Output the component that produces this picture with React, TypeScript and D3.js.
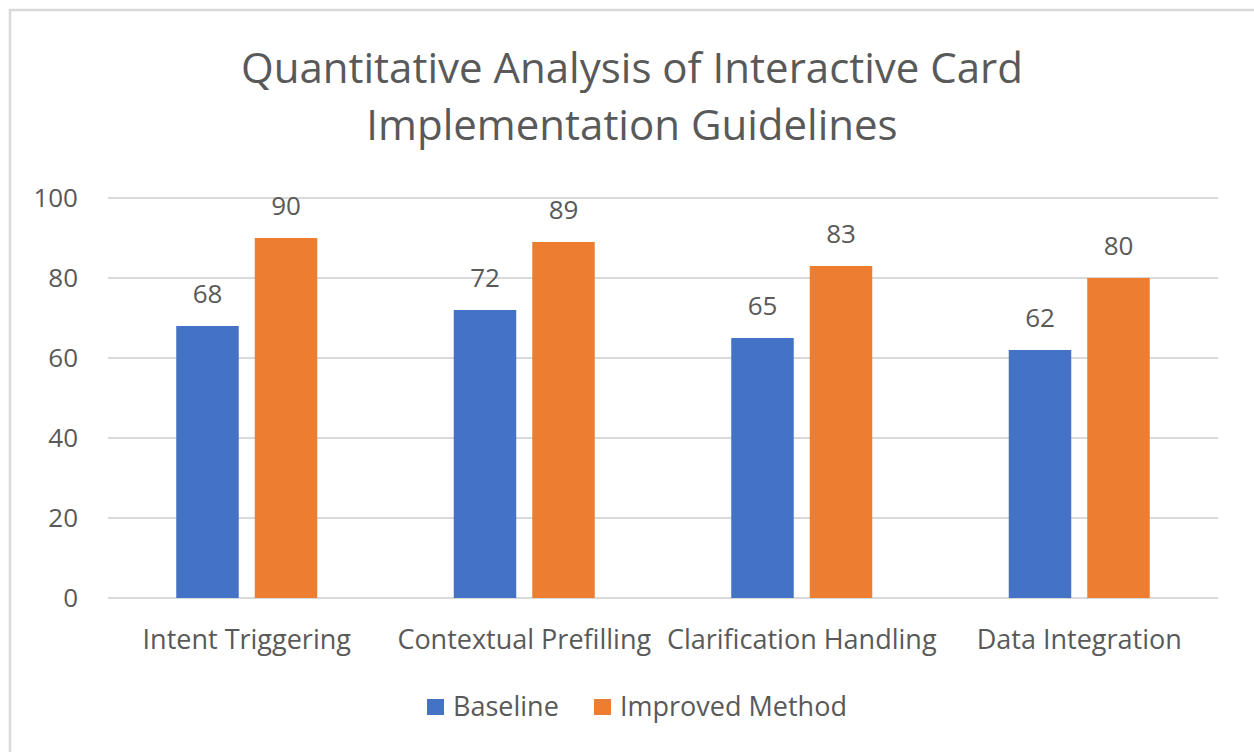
import React from "react";
import * as d3 from "d3";

const categories = ["Intent Triggering", "Contextual Prefilling", "Clarification Handling", "Data Integration"];
const seriesNames = ["Baseline", "Improved Method"];
const baseline = [68, 72, 65, 62];
const improved = [90, 89, 83, 80];
const yTicks = [0, 20, 40, 60, 80, 100];
const titleLines = ["Quantitative Analysis of Interactive Card", "Implementation Guidelines"];
const colors = ["#4472C4", "#ED7D31"];

const W = 1254;
const H = 752;
const FONT = "'Open Sans', 'Noto Sans', sans-serif";
const TEXT = "#595959";
const GRID = "#D9D9D9";

export default function App() {
  const plot = { left: 108, right: 1218, top: 198, bottom: 598 };
  const y = d3.scaleLinear().domain([0, 100]).range([plot.bottom, plot.top]);
  const x0 = d3.scaleBand<string>().domain(categories).range([plot.left, plot.right]).paddingInner(0).paddingOuter(0);
  const groupW = 141;
  const bw = x0.bandwidth();
  const x1 = d3
    .scaleBand<string>()
    .domain(seriesNames)
    .range([(bw - groupW) / 2, (bw + groupW) / 2])
    .paddingInner(0.204)
    .paddingOuter(0);
  const series = [baseline, improved];

  return (
    <svg width={W} height={H} style={{ position: "absolute", left: 0, top: 0, background: "#fff" }} fontFamily={FONT}>
      <rect x={0} y={0} width={W} height={H} fill="#fff" />
      <rect x={10} y={10} width={W + 20} height={H + 20} fill="#fff" stroke={GRID} strokeWidth={2.5} />
      {titleLines.map((t, i) => (
        <text key={i} x={632} y={83 + i * 57} textAnchor="middle" fontSize={42} fill={TEXT}>
          {t}
        </text>
      ))}
      {yTicks.map((t) => (
        <g key={t}>
          <line x1={plot.left} x2={plot.right} y1={y(t)} y2={y(t)} stroke={GRID} strokeWidth={2} />
          <text x={78} y={y(t)} dy="0.35em" textAnchor="end" fontSize={26} fill={TEXT}>
            {t}
          </text>
        </g>
      ))}
      {categories.map((c, ci) => (
        <g key={c} transform={`translate(${x0(c)},0)`}>
          {seriesNames.map((s, si) => {
            const v = series[si][ci];
            const bx = x1(s)!;
            return (
              <g key={s}>
                <rect x={bx} y={y(v)} width={x1.bandwidth()} height={y(0) - y(v)} fill={colors[si]} />
                <text x={bx + x1.bandwidth() / 2} y={y(v) - 23} textAnchor="middle" fontSize={26} fill={TEXT}>
                  {v}
                </text>
              </g>
            );
          })}
          <text x={bw / 2} y={649} textAnchor="middle" fontSize={27} fill={TEXT}>
            {c}
          </text>
        </g>
      ))}
      <g>
        <rect x={427} y={699} width={17} height={16} fill={colors[0]} />
        <text x={453} y={716} fontSize={27} fill={TEXT}>
          {seriesNames[0]}
        </text>
        <rect x={594} y={699} width={17} height={16} fill={colors[1]} />
        <text x={620} y={716} fontSize={27} fill={TEXT}>
          {seriesNames[1]}
        </text>
      </g>
    </svg>
  );
}
